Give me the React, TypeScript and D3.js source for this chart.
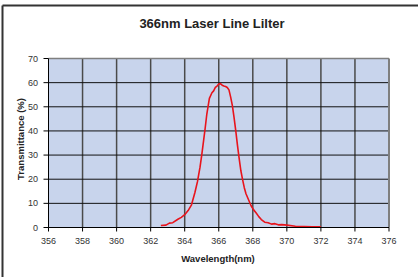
import * as d3 from "d3"

const WAVELENGTH = [
  362.6, 362.9, 363.1, 363.3, 363.6, 363.8, 364.0, 364.2, 364.4, 364.6, 364.75, 364.9, 365.0, 365.1,
  365.2, 365.3, 365.45, 365.6, 365.7, 365.8, 365.9, 366.0, 366.1, 366.2, 366.3, 366.4, 366.5, 366.6,
  366.7, 366.8, 366.9, 367.0, 367.1, 367.2, 367.3, 367.4, 367.5, 367.6, 367.75, 367.9, 368.05, 368.2,
  368.35, 368.5, 368.7, 368.9, 369.1, 369.3, 369.5, 369.7, 370.0, 370.5, 371.0, 371.5, 372.0,
]
const TRANSMITTANCE = [
  0.8, 1.0, 1.8, 2.0, 3.4, 4.2, 5.3, 7.0, 9.4, 14.5, 19.0, 25.0, 30.0, 35.5,
  41.0, 47.0, 53.5, 55.8, 56.6, 58.0, 58.6, 59.4, 59.6, 58.9, 58.6, 58.4, 58.0, 57.0,
  54.0, 50.5, 45.5, 40.0, 34.0, 28.5, 23.5, 19.8, 16.5, 14.0, 11.5, 9.0, 7.3, 6.0,
  4.5, 3.3, 2.2, 2.0, 1.4, 1.6, 1.1, 1.2, 1.0, 0.5, 0.4, 0.3, 0.3,
]
const X_TICKS = [356, 358, 360, 362, 364, 366, 368, 370, 372, 374, 376]
const Y_TICKS = [0, 10, 20, 30, 40, 50, 60, 70]

const W = 418
const H = 277
const FONT = "Arial, 'Liberation Sans', sans-serif"

export default function App() {
  const x = d3.scaleLinear().domain([356, 376]).range([48.5, 389])
  const y = d3.scaleLinear().domain([0, 70]).range([227.5, 58.5])

  const pts = WAVELENGTH.map((w, i) => [w, TRANSMITTANCE[i]] as [number, number])
  const line = d3
    .line<[number, number]>()
    .x((d) => x(d[0]))
    .y((d) => y(d[1]))

  const [x0, x1] = x.range()
  const [y0, y1] = y.range()

  return (
    <div style={{ position: "fixed", left: 0, top: 0 }}>
      <svg width={W} height={H} style={{ display: "block", background: "#fff" }}>
        {/* outer chart frame (cropped on right/bottom) */}
        <line x1={2.5} x2={W} y1={5.5} y2={5.5} stroke="#333" strokeWidth={2} />
        <line x1={2.5} x2={2.5} y1={5.5} y2={H} stroke="#333" strokeWidth={2} />

        <text x={212} y={28} textAnchor="middle" fontFamily={FONT} fontSize={13} fontWeight="bold" fill="#222">
          366nm Laser Line Lilter
        </text>

        <rect x={x0} y={y1} width={x1 - x0} height={y0 - y1} fill="#c8d4ec" />

        {X_TICKS.slice(1, -1).map((t) => (
          <line key={"vx" + t} x1={x(t)} x2={x(t)} y1={y1} y2={y0} stroke="#4a4a4a" strokeWidth={1.5} />
        ))}
        {Y_TICKS.slice(1, -1).map((t) => (
          <line key={"hy" + t} x1={x0} x2={x1} y1={y(t)} y2={y(t)} stroke="#111" strokeWidth={1} />
        ))}

        {/* plot border top/right */}
        <line x1={x0} x2={x1} y1={y1} y2={y1} stroke="#7f7f7f" strokeWidth={1.5} />
        <line x1={x1} x2={x1} y1={y1} y2={y0} stroke="#7f7f7f" strokeWidth={2} />

        <path d={line(pts) ?? ""} fill="none" stroke="#e8141c" strokeWidth={1.6} strokeLinejoin="round" />

        {/* axes */}
        <line x1={x0} x2={x0} y1={y1} y2={y0} stroke="#000" strokeWidth={1} />
        <line x1={x0} x2={x1} y1={y0} y2={y0} stroke="#000" strokeWidth={1} />
        {Y_TICKS.map((t) => (
          <g key={"yt" + t}>
            <line x1={x0 - 5} x2={x0} y1={y(t)} y2={y(t)} stroke="#000" />
            <text x={38} y={y(t) + 3} textAnchor="end" fontFamily={FONT} fontSize={9} fill="#333">
              {t}
            </text>
          </g>
        ))}
        {X_TICKS.map((t) => (
          <g key={"xt" + t}>
            <line x1={x(t)} x2={x(t)} y1={y0} y2={y0 + 4} stroke="#000" />
            <text x={x(t)} y={244} textAnchor="middle" fontFamily={FONT} fontSize={9} fill="#333">
              {t}
            </text>
          </g>
        ))}

        <text
          transform="translate(24,139) rotate(-90)"
          textAnchor="middle"
          fontFamily={FONT}
          fontSize={9.5}
          fontWeight="bold"
          fill="#222"
        >
          Transmittance (%)
        </text>
        <text x={218} y={262} textAnchor="middle" fontFamily={FONT} fontSize={9.5} fontWeight="bold" fill="#222">
          Wavelength(nm)
        </text>
      </svg>
    </div>
  )
}
